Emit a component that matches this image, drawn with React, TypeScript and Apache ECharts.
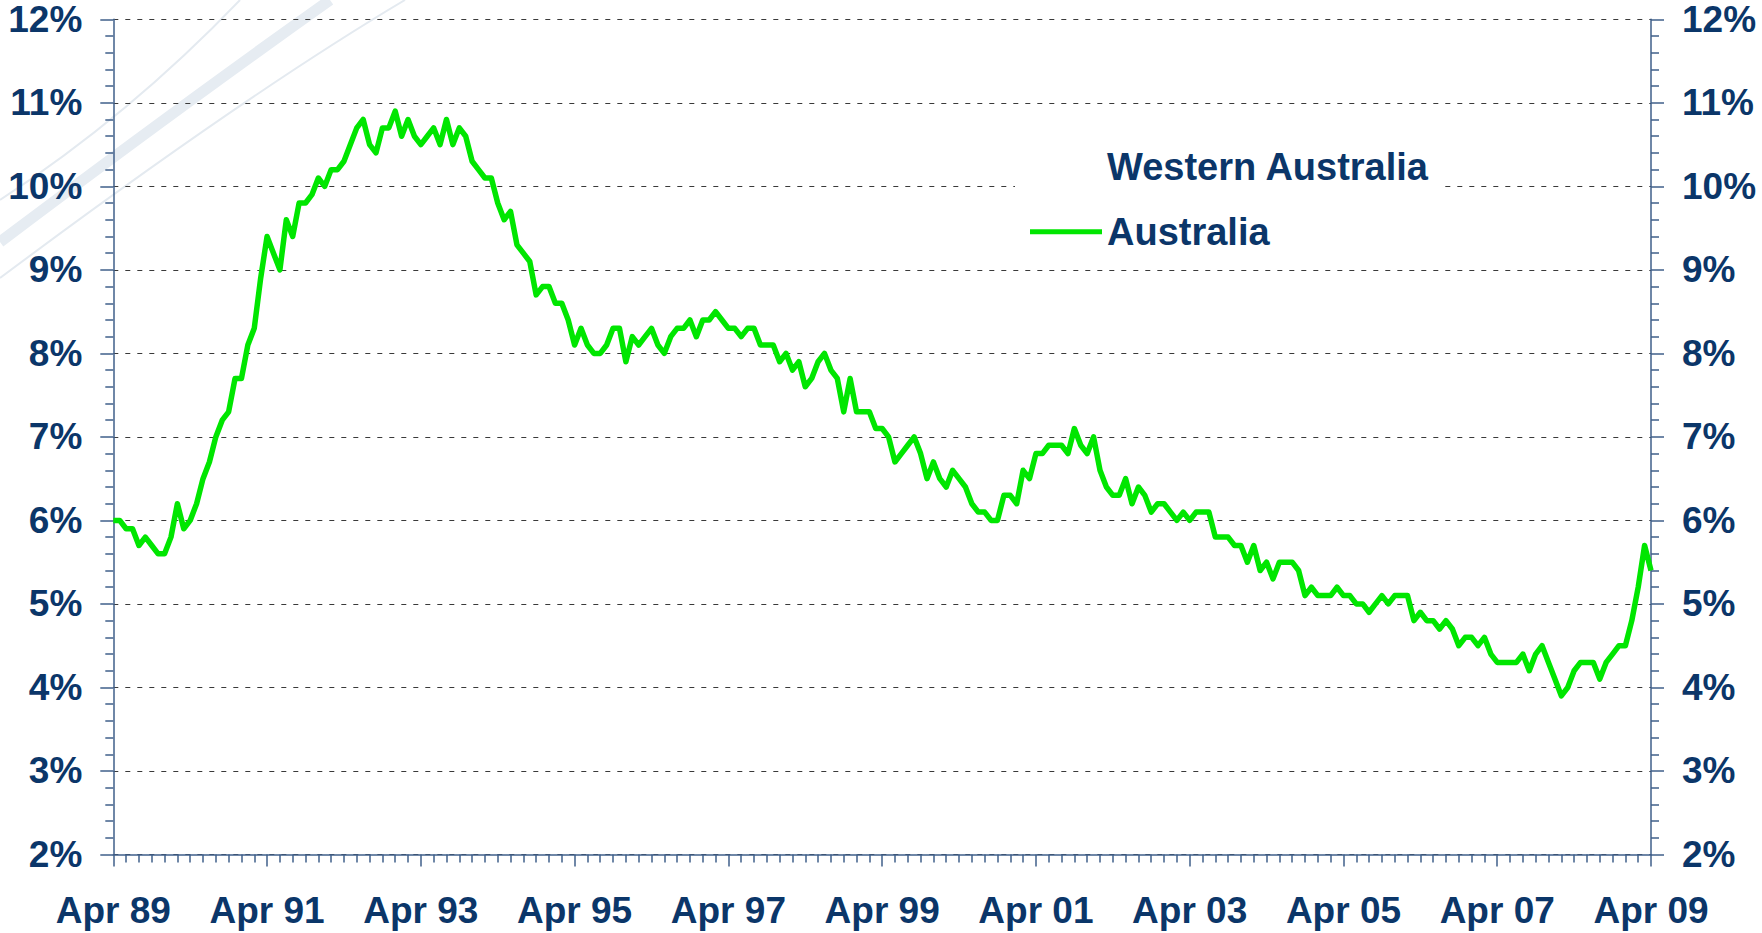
import React, { useEffect, useRef } from "react";
import * as echarts from "echarts";

// Monthly Australian unemployment rate (%), Apr 1989 .. Apr 2009 (241 months)
const australia1989to1994: number[] = [
  6.0, 6.0, 5.9, 5.9, 5.7, 5.8, 5.7, 5.6, 5.6, 5.8, 6.2, 5.9,
  6.0, 6.2, 6.5, 6.7, 7.0, 7.2, 7.3, 7.7, 7.7, 8.1, 8.3, 8.9,
  9.4, 9.2, 9.0, 9.6, 9.4, 9.8, 9.8, 9.9, 10.1, 10.0, 10.2, 10.2,
  10.3, 10.5, 10.7, 10.8, 10.5, 10.4, 10.7, 10.7, 10.9, 10.6, 10.8, 10.6,
  10.5, 10.6, 10.7, 10.5, 10.8, 10.5, 10.7, 10.6, 10.3, 10.2, 10.1, 10.1,
];
const australia1994to1999: number[] = [
  9.8, 9.6, 9.7, 9.3, 9.2, 9.1, 8.7, 8.8, 8.8, 8.6, 8.6, 8.4,
  8.1, 8.3, 8.1, 8.0, 8.0, 8.1, 8.3, 8.3, 7.9, 8.2, 8.1, 8.2,
  8.3, 8.1, 8.0, 8.2, 8.3, 8.3, 8.4, 8.2, 8.4, 8.4, 8.5, 8.4,
  8.3, 8.3, 8.2, 8.3, 8.3, 8.1, 8.1, 8.1, 7.9, 8.0, 7.8, 7.9,
  7.6, 7.7, 7.9, 8.0, 7.8, 7.7, 7.3, 7.7, 7.3, 7.3, 7.3, 7.1,
];
const australia1999to2004: number[] = [
  7.1, 7.0, 6.7, 6.8, 6.9, 7.0, 6.8, 6.5, 6.7, 6.5, 6.4, 6.6,
  6.5, 6.4, 6.2, 6.1, 6.1, 6.0, 6.0, 6.3, 6.3, 6.2, 6.6, 6.5,
  6.8, 6.8, 6.9, 6.9, 6.9, 6.8, 7.1, 6.9, 6.8, 7.0, 6.6, 6.4,
  6.3, 6.3, 6.5, 6.2, 6.4, 6.3, 6.1, 6.2, 6.2, 6.1, 6.0, 6.1,
  6.0, 6.1, 6.1, 6.1, 5.8, 5.8, 5.8, 5.7, 5.7, 5.5, 5.7, 5.4,
];
const australia2004to2009: number[] = [
  5.5, 5.3, 5.5, 5.5, 5.5, 5.4, 5.1, 5.2, 5.1, 5.1, 5.1, 5.2,
  5.1, 5.1, 5.0, 5.0, 4.9, 5.0, 5.1, 5.0, 5.1, 5.1, 5.1, 4.8,
  4.9, 4.8, 4.8, 4.7, 4.8, 4.7, 4.5, 4.6, 4.6, 4.5, 4.6, 4.4,
  4.3, 4.3, 4.3, 4.3, 4.4, 4.2, 4.4, 4.5, 4.3, 4.1, 3.9, 4.0,
  4.2, 4.3, 4.3, 4.3, 4.1, 4.3, 4.4, 4.5, 4.5, 4.8, 5.2, 5.7,
  5.4,
];

const xTickLabels: string[] = [
  "Apr 89", "Apr 91", "Apr 93", "Apr 95", "Apr 97", "Apr 99",
  "Apr 01", "Apr 03", "Apr 05", "Apr 07", "Apr 09",
];
const seriesNames: string[] = ["Western Australia", "Australia"];
const yMin = 2;
const yMax = 12;

const NAVY = "#0b3669";
const AXIS = "#3f5f8a";
const FONT = "'Liberation Sans', Arial, sans-serif";

export default function App() {
  const ref = useRef<HTMLDivElement>(null);

  useEffect(() => {
    if (!ref.current) return;
    const chart = echarts.init(ref.current, undefined, { renderer: "svg" });
    const australia = [
      ...australia1989to1994,
      ...australia1994to1999,
      ...australia1999to2004,
      ...australia2004to2009,
    ];
    const lastIndex = australia.length - 1;
    const points = australia.map((v, i) => [i, v]);

    const yAxisCommon = (position: "left" | "right") => ({
      type: "value" as const,
      position,
      min: yMin,
      max: yMax,
      interval: 1,
      axisLine: { show: true, lineStyle: { color: AXIS, width: 1.5 } },
      axisTick: { show: true, length: 13, lineStyle: { color: AXIS, width: 1.5 } },
      minorTick: { show: true, splitNumber: 5, length: 8, lineStyle: { color: AXIS, width: 1.5 } },
      axisLabel: {
        formatter: "{value}%",
        margin: 31,
        color: NAVY,
        fontFamily: FONT,
        fontWeight: "bold" as const,
        fontSize: 37,
      },
    });

    chart.setOption({
      animation: false,
      backgroundColor: "#ffffff",
      graphic: [
        {
          type: "bezierCurve",
          z: -10,
          silent: true,
          shape: { x1: 0, y1: 200, x2: 240, y2: 0, cpx1: 130, cpy1: 115 },
          style: { stroke: "#e4eaf0", lineWidth: 2, fill: null },
        },
        {
          type: "bezierCurve",
          z: -10,
          silent: true,
          shape: { x1: 0, y1: 242, x2: 330, y2: 0, cpx1: 175, cpy1: 110 },
          style: { stroke: "#e6ecf2", lineWidth: 11, fill: null },
        },
        {
          type: "bezierCurve",
          z: -10,
          silent: true,
          shape: { x1: 0, y1: 278, x2: 405, y2: 0, cpx1: 245, cpy1: 95 },
          style: { stroke: "#e4eaf0", lineWidth: 2, fill: null },
        },
      ],
      grid: { left: 113.3, right: 111, top: 19.3, bottom: 78.5, containLabel: false },
      legend: {
        orient: "vertical",
        left: 1015,
        top: 136.7,
        padding: [10, 14, 10, 15],
        backgroundColor: "#ffffff",
        icon: "rect",
        itemWidth: 72,
        itemHeight: 5,
        itemGap: 25,
        data: seriesNames,
        textStyle: {
          color: NAVY,
          fontFamily: FONT,
          fontWeight: "bold",
          fontSize: 38,
          lineHeight: 40,
        },
      },
      xAxis: {
        type: "value",
        min: 0,
        max: lastIndex,
        interval: 24,
        splitLine: { show: false },
        axisLine: { show: true, lineStyle: { color: AXIS, width: 1.5 } },
        axisTick: { show: true, length: 12, lineStyle: { color: AXIS, width: 1.5 } },
        minorTick: { show: true, splitNumber: 12, length: 8, lineStyle: { color: AXIS, width: 1.5 } },
        axisLabel: {
          margin: 37,
          color: NAVY,
          fontFamily: FONT,
          fontWeight: "bold",
          fontSize: 37,
          formatter: (v: number) => xTickLabels[Math.round(v / 24)] ?? "",
        },
      },
      yAxis: [
        {
          ...yAxisCommon("left"),
          splitLine: {
            show: true,
            lineStyle: { color: "#3a3a3a", width: 1.2, type: [5, 7] },
          },
        },
        {
          ...yAxisCommon("right"),
          splitLine: { show: false },
        },
      ],
      series: [
        {
          name: seriesNames[0],
          type: "line",
          data: [],
          color: "#ffffff",
          showSymbol: false,
        },
        {
          name: seriesNames[1],
          type: "line",
          yAxisIndex: 0,
          data: points,
          color: "#00e600",
          showSymbol: false,
          lineStyle: { width: 5.5, color: "#00e600", join: "round" },
          z: 5,
        },
      ],
    });

    return () => chart.dispose();
  }, []);

  return (
    <div
      ref={ref}
      style={{ position: "absolute", left: 0, top: 0, width: 1762, height: 933 }}
    />
  );
}
